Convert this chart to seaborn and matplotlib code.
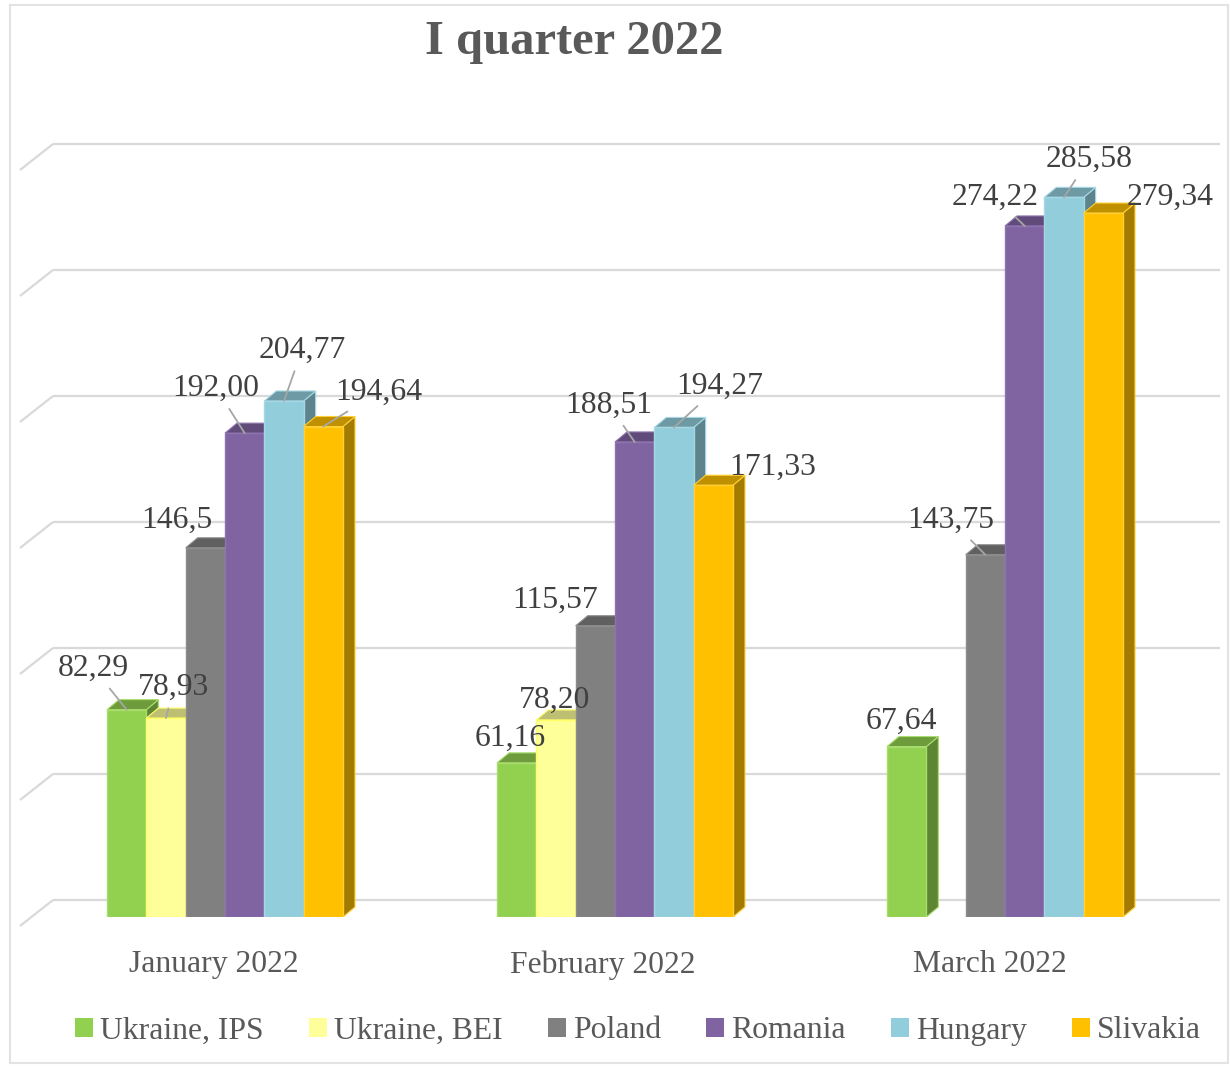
import numpy as np
import pandas as pd
import matplotlib
matplotlib.use("Agg")
import matplotlib.pyplot as plt
import seaborn as sns
from matplotlib.patches import Polygon, Rectangle
from matplotlib.transforms import ScaledTranslation
from matplotlib.colors import to_rgb

# ---------------- data ----------------
months = ["January 2022", "February 2022", "March 2022"]
countries = ["Ukraine, IPS", "Ukraine, BEI", "Poland", "Romania", "Hungary", "Slivakia"]

ukraine_ips = [82.29, 61.16, 67.64]
ukraine_bei = [78.93, 78.20, np.nan]
poland = [146.5, 115.57, 143.75]
romania = [192.00, 188.51, 274.22]
hungary = [204.77, 194.27, 285.58]
slivakia = [194.64, 171.33, 279.34]

ukraine_ips_text = ["82,29", "61,16", "67,64"]
ukraine_bei_text = ["78,93", "78,20", ""]
poland_text = ["146,5", "115,57", "143,75"]
romania_text = ["192,00", "188,51", "274,22"]
hungary_text = ["204,77", "194,27", "285,58"]
slivakia_text = ["194,64", "171,33", "279,34"]

title = "I quarter 2022"

# ---------------- styles / positions ----------------
colors = ["#92D050", "#FFFF99", "#808080", "#8064A2", "#92CDDC", "#FFC000"]
edge_colors = ["#A8DC6C", "#FFFF66", "#8C8C8C", "#8E74AE", "#A6D8E4", "#FFCF33"]
# label offsets in pixels (right, down) from the front-top centre of the bar
label_offsets = {
    "Ukraine, IPS": [(-33.5, -44.6), (-6.5, -28), (-5.5, -28.5)],
    "Ukraine, BEI": [(7.5, -34), (-1.5, -23), None],
    "Poland": [(-28, -30), (-40.5, -28), (-34.5, -37.7)],
    "Romania": [(-28.5, -48), (-25.5, -40), (-30, -32)],
    "Hungary": [(18, -54), (45.5, -44.5), (25, -41)],
    "Slivakia": [(55.5, -37.5), (59, -21), (66.5, -19)],
}
leaders = {
    "Ukraine, IPS": [True, False, False],
    "Ukraine, BEI": [True, False, False],
    "Poland": [False, False, True],
    "Romania": [True, True, True],
    "Hungary": [True, True, True],
    "Slivakia": [True, False, False],
}
tick_shift_px = [-11, -12.5, -15]

values = {
    "Ukraine, IPS": ukraine_ips, "Ukraine, BEI": ukraine_bei, "Poland": poland,
    "Romania": romania, "Hungary": hungary, "Slivakia": slivakia,
}
texts = {
    "Ukraine, IPS": ukraine_ips_text, "Ukraine, BEI": ukraine_bei_text, "Poland": poland_text,
    "Romania": romania_text, "Hungary": hungary_text, "Slivakia": slivakia_text,
}

rows = []
for c in countries:
    for m, v in zip(months, values[c]):
        rows.append({"month": m, "country": c, "value": v})
df = pd.DataFrame(rows).dropna()

plt.rcParams["font.family"] = ["Liberation Serif", "DejaVu Serif"]
FS = 22.8
TXT = "#595959"

W, H = 1230, 1066
fig = plt.figure(figsize=(W / 100, H / 100), dpi=100)
fig.patch.set_facecolor("white")

ax_left, ax_right, ax_bottom, ax_top = 53, 1220, 917, 100
ax = fig.add_axes([ax_left / W, 1 - ax_bottom / H, (ax_right - ax_left) / W, (ax_bottom - ax_top) / H])

PX_X = 390.0   # pixels per category unit
PX_Y = 2.52    # pixels per value unit
x0_cat = 225.0  # pixel position of first category

sns.barplot(data=df, x="month", y="value", hue="country", order=months, hue_order=countries,
            palette=colors, saturation=1, width=0.605, gap=0, ax=ax, legend=True,
            linewidth=1)

xlim = ((ax_left - x0_cat) / PX_X, (ax_right - x0_cat) / PX_X)
ax.set_xlim(*xlim)
ax.set_ylim(0, (ax_bottom - ax_top) / PX_Y)
for s in ax.spines.values():
    s.set_visible(False)
ax.set_yticks([])
ax.set_xlabel("")
ax.set_ylabel("")
ax.set_facecolor("white")

# back-wall gridlines with 3D side diagonal
back_off = 17 / PX_Y
for v in range(0, 301, 50):
    yb = v + back_off
    ax.axhline(yb, color="#D9D9D9", lw=1.6, zorder=0.5)
    ax.plot([xlim[0], xlim[0] - 33 / PX_X], [yb, yb - 26 / PX_Y], color="#D9D9D9",
            lw=1.6, clip_on=False, zorder=0.5, solid_capstyle="butt")

# 3D faces
dx = 12 / PX_X
dy = 10 / PX_Y


def shade(c, f):
    r, g, b = to_rgb(c)
    return (r * f, g * f, b * f)


bars = []
for ci, (c, cont) in enumerate(zip(countries, ax.containers)):
    for bar in cont.patches:
        h = bar.get_height()
        if not np.isfinite(h):
            continue
        bars.append((bar.get_x(), ci, c, bar))
bars.sort(key=lambda t: t[0])
for rank, (x0, ci, c, bar) in enumerate(bars):
    z = 2 + rank * 0.01
    w = bar.get_width()
    h = bar.get_height()
    x1 = x0 + w
    bar.set_edgecolor(edge_colors[ci])
    bar.set_linewidth(1)
    bar.set_zorder(z + 0.005)
    top = Polygon([(x0, h), (x1, h), (x1 + dx, h + dy), (x0 + dx, h + dy)], closed=True,
                  facecolor=shade(colors[ci], 0.75), edgecolor=edge_colors[ci], lw=0.8, zorder=z)
    side = Polygon([(x1, 0), (x1 + dx, dy), (x1 + dx, h + dy), (x1, h)], closed=True,
                   facecolor=shade(colors[ci], 0.64), edgecolor=edge_colors[ci], lw=0.8, zorder=z)
    ax.add_patch(side)
    ax.add_patch(top)

    mi = int(round(x0 + w / 2))
    off = label_offsets[c][mi]
    if off is None:
        continue
    ox, oy = off
    kw = {}
    if leaders[c][mi]:
        kw["arrowprops"] = dict(arrowstyle="-", color="#A6A6A6", lw=1.3, shrinkA=-3, shrinkB=0)
    ax.annotate(texts[c][mi], xy=(x0 + w / 2, h), xycoords="data",
                xytext=(ox, -(oy + 10.5)), textcoords="offset pixels",
                ha="center", va="baseline", fontsize=FS, color="#404040", zorder=20, **kw)

# category labels
ax.set_xticks(range(len(months)))
ax.set_xticklabels(months, fontsize=FS, color=TXT)
ax.tick_params(axis="x", length=0, pad=24)
for lab, sh in zip(ax.get_xticklabels(), tick_shift_px):
    lab.set_transform(lab.get_transform() + ScaledTranslation(sh / 100, 0, fig.dpi_scale_trans))

# legend
sns.move_legend(ax, loc="center", bbox_to_anchor=(638 / W, 1 - 1031 / H),
                bbox_transform=fig.transFigure, ncol=6, frameon=False, title=None,
                fontsize=FS, handlelength=0.57, handleheight=0.57, handletextpad=0.22,
                columnspacing=1.43, borderpad=0)
for t in ax.get_legend().get_texts():
    t.set_color(TXT)

# title
fig.text(574.5 / W, 1 - 54 / H, title, ha="center", va="baseline", fontsize=35,
         fontweight="bold", color=TXT)

# chart border
fig.add_artist(Rectangle((10 / W, 1 - 1063 / H), (1228 - 10) / W, (1063 - 5) / H,
                         transform=fig.transFigure, fill=False, edgecolor="#E3E3E3", lw=1.5))

fig.savefig("out.png", dpi=100, facecolor="white")
